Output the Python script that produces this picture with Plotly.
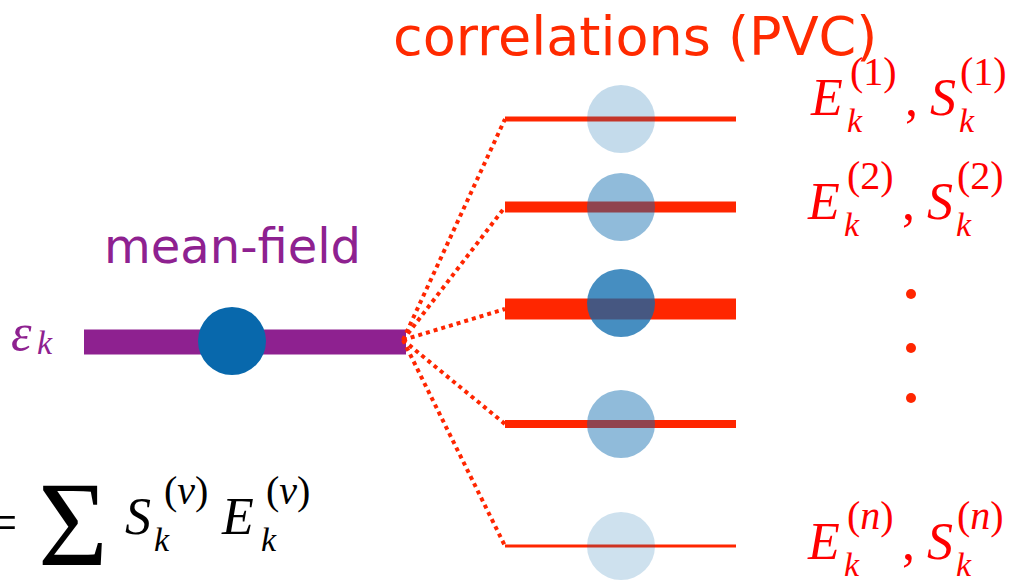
import plotly.graph_objects as go

# ---------------- data ----------------
# correlated (PVC) fragments of one mean-field level
level_names = ["1", "2", "3", "4", "n"]
level_energy = [119, 207, 309, 424, 546]        # vertical position of each fragment (downward scale)
circle_energy = [119, 207, 303, 424, 546]       # position of the strength "blob"
strength_width = [5, 11, 21, 8, 3]              # spectroscopic strength -> line thickness
occupancy = [0.24, 0.45, 0.75, 0.45, 0.20]      # blob shading

labelled_levels = ["1", "2", "n"]
label_baseline = [118, 222, 562]
label_left = [810, 807, 807]

mf_energy = 342
mf_extent = [84, 406]
frag_extent = [505, 736]
fan_origin = [403, 340]
blob_x = 621
mf_blob_x = 232
ellipsis_x = 911
ellipsis_y = [294, 348, 398]

RED = "#FF2600"
LBL = "#FF0000"
PURPLE = "#8E2190"
BLUE = "#0868AC"
SERIF = "Liberation Serif"
W, H = 1022, 580

fig = go.Figure()

# mean-field level
fig.add_trace(go.Scatter(x=mf_extent, y=[mf_energy, mf_energy], mode="lines",
                         line=dict(color=PURPLE, width=25), hoverinfo="skip"))

# fan of dotted couplings
fx, fy = [], []
for e in level_energy:
    fx += [fan_origin[0], frag_extent[0], None]
    fy += [fan_origin[1], e, None]
fig.add_trace(go.Scatter(x=fx, y=fy, mode="lines",
                         line=dict(color=RED, width=4, dash="dot"), hoverinfo="skip"))

# fragmented levels
for e, w in zip(level_energy, strength_width):
    fig.add_trace(go.Scatter(x=frag_extent, y=[e, e], mode="lines",
                             line=dict(color=RED, width=w), hoverinfo="skip"))

# strength blobs
for e, a in zip(circle_energy, occupancy):
    fig.add_trace(go.Scatter(x=[blob_x], y=[e], mode="markers",
                             marker=dict(size=68, color=BLUE, opacity=a, line=dict(width=0)),
                             hoverinfo="skip"))

# mean-field blob
fig.add_trace(go.Scatter(x=[mf_blob_x], y=[341], mode="markers",
                         marker=dict(size=68, color=BLUE, line=dict(width=0)), hoverinfo="skip"))

# vertical ellipsis
fig.add_trace(go.Scatter(x=[ellipsis_x] * len(ellipsis_y), y=ellipsis_y, mode="markers",
                         marker=dict(size=10, color=RED, line=dict(width=0)), hoverinfo="skip"))


def txt(x, y, s, size, color, family=SERIF, xanchor="left"):
    fig.add_annotation(x=x, y=y, text=s, showarrow=False, xanchor=xanchor, yanchor="middle",
                       font=dict(size=size, color=color, family=family),
                       borderpad=0, borderwidth=0)


def sym(x, b, base, sup, sub, color, sup_dx, sub_dx, sup_italic=False):
    txt(x, b - 20.5, f"<i>{base}</i>", 52, color)
    s = f"({'<i>' + sup + '</i>' if sup_italic else sup})"
    txt(x + sup_dx, b - 47, s, 40, color)
    txt(x + sub_dx, b + 2, f"<i>{sub}</i>", 34, color)


# right-hand labels
for name, b, x0 in zip(labelled_levels, label_baseline, label_left):
    it = not name.isdigit()
    sym(x0, b, "E", name, "k", LBL, 40, 37, it)
    txt(x0 + 95, b - 20.5, ",", 52, LBL)
    sym(x0 + 120, b, "S", name, "k", LBL, 30, 29, it)

# epsilon_k
txt(11, 332, "<i>ε</i>", 52, PURPLE)
txt(37, 342, "<i>k</i>", 34, PURPLE)

# titles
txt(635, 36, "correlations (PVC)", 54, "#FF2A00", family="DejaVu Sans", xanchor="center")
txt(232, 246, "mean-field", 48, PURPLE, family="DejaVu Sans", xanchor="center")

# bottom formula (leading "=" is partly cut by the left edge)
fig.add_annotation(x=-12 / W, y=1 - 522 / H, xref="paper", yref="paper", text="=",
                   showarrow=False, xanchor="left", yanchor="middle",
                   font=dict(size=52, color="#000000", family=SERIF),
                   borderpad=0, borderwidth=0)
txt(38, 524, "Σ", 120, "#000000")
sym(125, 537, "S", "<i>ν</i>", "k", "#000000", 39, 29)
sym(221, 537, "E", "<i>ν</i>", "k", "#000000", 45, 40)

fig.update_layout(
    width=W, height=H, margin=dict(l=0, r=0, t=0, b=0),
    paper_bgcolor="white", plot_bgcolor="white", showlegend=False,
    xaxis=dict(range=[0, W], visible=False, fixedrange=True),
    yaxis=dict(range=[H, 0], visible=False, fixedrange=True),
)

fig.write_html("out.html", config={"displayModeBar": False},
               post_script="document.body.style.margin='0px';")
